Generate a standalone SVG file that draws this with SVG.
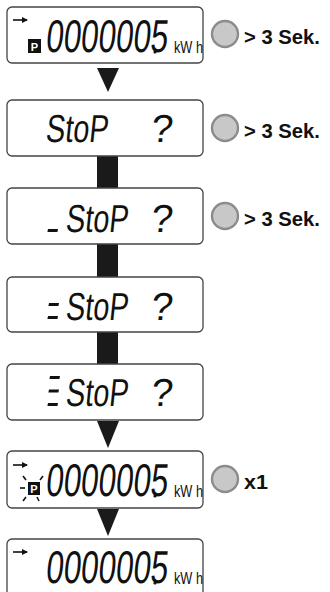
<svg xmlns="http://www.w3.org/2000/svg" width="330" height="592" viewBox="0 0 330 592">
<style>
.box{fill:#fff;stroke:#444;stroke-width:1.3}
.con{fill:#1a1a1a}
.btn{fill:#c8c8c8;stroke:#8c8c8c;stroke-width:2.4}
.lab{font-family:"Liberation Sans",Arial,sans-serif;font-weight:bold;font-size:21px;fill:#111}
.dig{font-family:"Liberation Sans",Arial,sans-serif;font-size:46px;fill:#111}
.stop{font-family:"Liberation Sans",Arial,sans-serif;font-size:39px;fill:#111}
.unit{font-family:"Liberation Sans",Arial,sans-serif;font-size:16px;fill:#111}
.pt{font-family:"Liberation Sans",Arial,sans-serif;font-weight:bold;font-size:11px;fill:#fff}
.arr{stroke:#111;stroke-width:1.6;fill:none}
.ray{stroke:#111;stroke-width:1.6}
.seg{fill:#111}
</style>
<defs>
<marker id="ah" viewBox="0 0 6 6" refX="5" refY="3" markerWidth="6" markerHeight="6" markerUnits="userSpaceOnUse" orient="auto"><path d="M0,0 L6,3 L0,6 z" fill="#111"/></marker>
</defs>
<g id="connectors">
<path class="con" d="M97,68 L119,68 L108,92 z"/>
<rect class="con" x="97" y="156" width="21" height="32"/>
<rect class="con" x="97" y="244" width="21" height="33"/>
<rect class="con" x="97" y="332" width="21" height="32"/>
<path class="con" d="M97,421 L119,421 L108,448 z"/>
<path class="con" d="M97,509 L119,509 L108,536 z"/>
</g>
<g id="node1">
<rect class="box" x="7" y="7" width="196" height="56" rx="5"/>
<line class="arr" x1="13" y1="20" x2="27" y2="20" marker-end="url(#ah)"/>
<rect class="seg" x="28" y="39" width="13" height="14"/>
<text class="pt" x="34.5" y="50.5" text-anchor="middle">P</text>
<text class="dig" transform="translate(45,52) skewX(-6)" x="0" y="0" textLength="122" lengthAdjust="spacingAndGlyphs">0000005</text>
<circle class="seg" cx="155" cy="52" r="1.6"/>
<text class="unit" x="174" y="53" textLength="29" lengthAdjust="spacingAndGlyphs">kW h</text>
</g>
<g id="button1">
<circle class="btn" cx="225" cy="34" r="13"/>
<text class="lab" x="244" y="43.5" textLength="76" lengthAdjust="spacingAndGlyphs">&gt; 3 Sek.</text>
</g>
<g id="node2">
<rect class="box" x="7" y="100" width="196" height="56" rx="5"/>
<text class="stop" transform="translate(45,142) skewX(-6)" x="0" y="0"><tspan textLength="70" lengthAdjust="spacingAndGlyphs">StoP </tspan><tspan x="105">?</tspan></text>
</g>
<g id="button2">
<circle class="btn" cx="225" cy="128" r="13"/>
<text class="lab" x="244" y="137.5" textLength="76" lengthAdjust="spacingAndGlyphs">&gt; 3 Sek.</text>
</g>
<g id="node3">
<rect class="box" x="7" y="188" width="196" height="56" rx="5"/>
<path class="seg" d="M48,229 L58,229 L57.4,232 L47.4,232 z"/>
<text class="stop" transform="translate(65,232) skewX(-6)" x="0" y="0"><tspan textLength="70" lengthAdjust="spacingAndGlyphs">StoP </tspan><tspan x="85">?</tspan></text>
</g>
<g id="button3">
<circle class="btn" cx="225" cy="216" r="13"/>
<text class="lab" x="244" y="225.5" textLength="76" lengthAdjust="spacingAndGlyphs">&gt; 3 Sek.</text>
</g>
<g id="node4">
<rect class="box" x="7" y="277" width="196" height="55" rx="5"/>
<path class="seg" d="M49,303 L59,303 L58.4,306 L48.4,306 z"/>
<path class="seg" d="M48,316 L58,316 L57.4,319 L47.4,319 z"/>
<text class="stop" transform="translate(65,320) skewX(-6)" x="0" y="0"><tspan textLength="70" lengthAdjust="spacingAndGlyphs">StoP </tspan><tspan x="85">?</tspan></text>
</g>
<g id="node5">
<rect class="box" x="7" y="364" width="196" height="56" rx="5"/>
<path class="seg" d="M50,376 L60,376 L59.4,379 L49.4,379 z"/>
<path class="seg" d="M49,389.5 L59,389.5 L58.4,392.5 L48.4,392.5 z"/>
<path class="seg" d="M48,403 L58,403 L57.4,406 L47.4,406 z"/>
<text class="stop" transform="translate(65,406) skewX(-6)" x="0" y="0"><tspan textLength="70" lengthAdjust="spacingAndGlyphs">StoP </tspan><tspan x="85">?</tspan></text>
</g>
<g id="node6">
<rect class="box" x="7" y="451" width="196" height="57" rx="5"/>
<line class="arr" x1="13" y1="465" x2="27" y2="465" marker-end="url(#ah)"/>
<rect class="seg" x="28" y="482" width="12" height="13"/>
<text class="pt" x="34" y="493" text-anchor="middle">P</text>
<line class="ray" x1="20" y1="488" x2="25" y2="488"/>
<line class="ray" x1="23" y1="476" x2="26" y2="480"/>
<line class="ray" x1="43" y1="476" x2="40" y2="480"/>
<line class="ray" x1="23" y1="501" x2="26" y2="497"/>
<line class="ray" x1="39" y1="501" x2="37" y2="497"/>
<text class="dig" transform="translate(45,496) skewX(-6)" x="0" y="0" textLength="122" lengthAdjust="spacingAndGlyphs">0000005</text>
<circle class="seg" cx="155" cy="496" r="1.6"/>
<text class="unit" x="174" y="497" textLength="29" lengthAdjust="spacingAndGlyphs">kW h</text>
</g>
<g id="button6">
<circle class="btn" cx="225" cy="479" r="13"/>
<text class="lab" x="244" y="488.5" textLength="24" lengthAdjust="spacingAndGlyphs">x1</text>
</g>
<g id="node7">
<rect class="box" x="7" y="539" width="196" height="58" rx="5"/>
<line class="arr" x1="13" y1="552" x2="27" y2="552" marker-end="url(#ah)"/>
<text class="dig" transform="translate(45,583) skewX(-6)" x="0" y="0" textLength="122" lengthAdjust="spacingAndGlyphs">0000005</text>
<circle class="seg" cx="155" cy="583" r="1.6"/>
<text class="unit" x="174" y="584" textLength="29" lengthAdjust="spacingAndGlyphs">kW h</text>
</g>
</svg>
